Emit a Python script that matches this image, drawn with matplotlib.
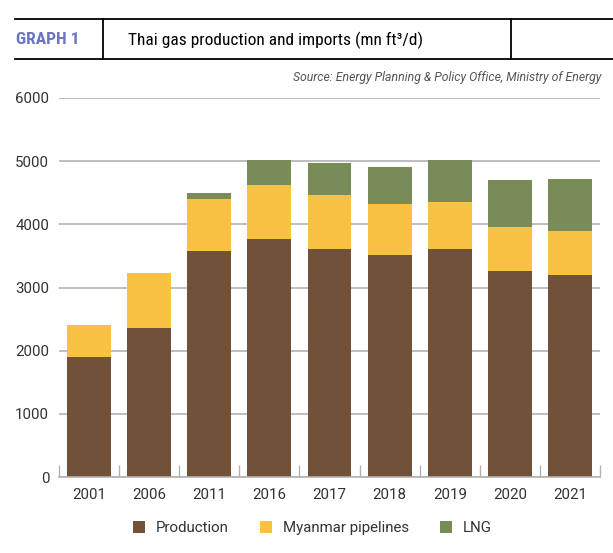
import numpy as np
import matplotlib.pyplot as plt
from matplotlib.lines import Line2D

years = ["2001", "2006", "2011", "2016", "2017", "2018", "2019", "2020", "2021"]
production = [1895, 2355, 3580, 3770, 3612, 3517, 3612, 3265, 3202]
myanmar = [505, 872, 820, 851, 852, 805, 741, 694, 694]
lng = [0, 0, 95, 395, 504, 583, 663, 741, 820]

c_prod = "#715239"
c_myan = "#F9C243"
c_lng = "#798B57"

fig = plt.figure(figsize=(6.13, 5.53), dpi=100)
ax = fig.add_axes([0.096, 0.1374, 0.883, 0.6854])

x = np.arange(len(years))
prod = np.array(production)
myan = np.array(myanmar)
ax.bar(x, prod, 0.73, color=c_prod, label="Production", zorder=2)
ax.bar(x, myan, 0.73, bottom=prod, color=c_myan, label="Myanmar pipelines", zorder=2)
ax.bar(x, lng, 0.73, bottom=prod + myan, color=c_lng, label="LNG", zorder=2)

ax.set_xlim(-0.5, len(years) - 0.5)
ax.set_ylim(0, 6000)
ax.set_yticks(range(0, 6001, 1000))
ax.yaxis.grid(True, color="#b3b3b3", linewidth=1.2, zorder=0)
for s in ["top", "right", "left"]:
    ax.spines[s].set_visible(False)
ax.spines["bottom"].set_color("#b3b3b3")
ax.spines["bottom"].set_linewidth(1.2)
ax.tick_params(axis="y", length=0, pad=7, labelsize=10.8, labelcolor="#333333")
ax.set_xticks(x)
ax.set_xticklabels(years)
ax.tick_params(axis="x", length=0, pad=8, labelsize=10.8, labelcolor="#333333")
# small ticks between categories
ax.set_xticks(np.arange(-0.5, len(years)), minor=True)
ax.tick_params(axis="x", which="minor", direction="in", length=9, color="#b3b3b3", width=1)
for lab in ax.get_yticklabels() + ax.get_xticklabels():
    lab.set_family("Roboto")

# header
fig.add_artist(Line2D([0.024, 1.0], [1 - 19.3 / 553] * 2, color="black", lw=1.3))
fig.add_artist(Line2D([0.024, 1.0], [1 - 59.3 / 553] * 2, color="black", lw=1.3))
fig.add_artist(Line2D([103 / 613] * 2, [1 - 19.3 / 553, 1 - 59.3 / 553], color="black", lw=1.3))
fig.add_artist(Line2D([511 / 613] * 2, [1 - 19.3 / 553, 1 - 59.3 / 553], color="black", lw=1.3))
fig.text(16 / 613, 1 - 40 / 553, "GRAPH 1", fontsize=12.5, fontweight="bold",
         color="#6b73c2", va="center", family=["Roboto Condensed", "DejaVu Sans"])
fig.text(128 / 613, 1 - 40 / 553, "Thai gas production and imports (mn ft³/d)", fontsize=12.5,
         color="black", va="center", family=["Roboto Condensed", "DejaVu Sans"])
fig.text(601 / 613, 1 - 78 / 553, "Source: Energy Planning & Policy Office, Ministry of Energy",
         fontsize=8.8, style="italic", color="#555555", ha="right", va="center", family="Roboto")

leg = fig.legend(loc="center", bbox_to_anchor=(0.51, 1 - 528 / 553), ncol=3, frameon=False,
                 handlelength=0.8, handleheight=0.8, handletextpad=0.7, columnspacing=2.1,
                 prop={"family": "Roboto", "size": 10.8})
for t in leg.get_texts():
    t.set_color("#333333")

fig.savefig("out.png", dpi=100)
